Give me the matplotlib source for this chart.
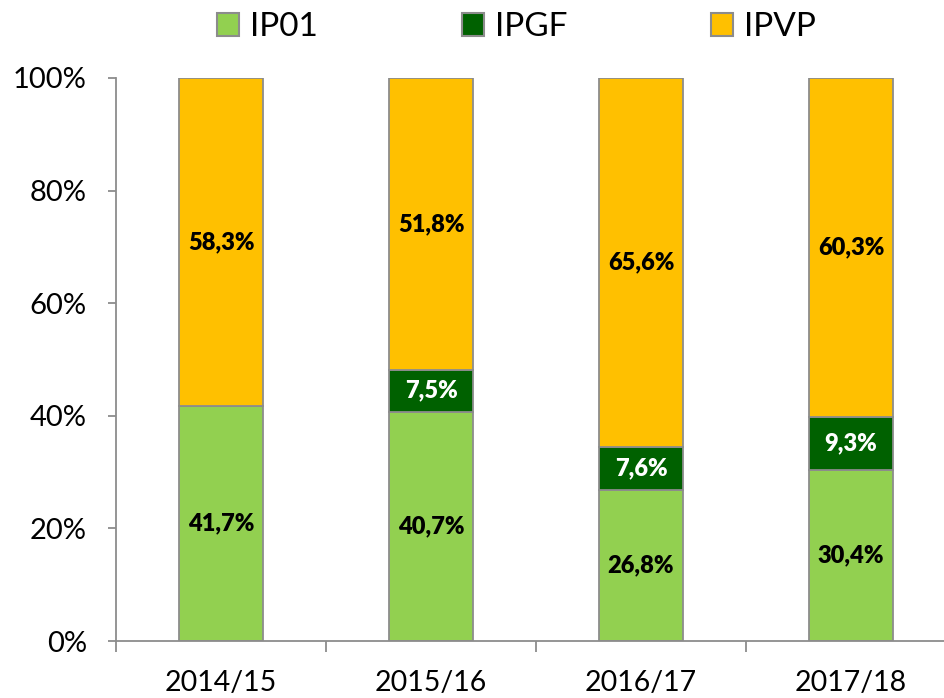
import matplotlib
matplotlib.use("Agg")
import matplotlib.pyplot as plt
from matplotlib.patches import Patch
import numpy as np

categories = ["2014/15", "2015/16", "2016/17", "2017/18"]
ip01 = [41.7, 40.7, 26.8, 30.4]
ipgf = [0.0, 7.5, 7.6, 9.3]
ipvp = [58.3, 51.8, 65.6, 60.3]
series_names = ["IP01", "IPGF", "IPVP"]
colors = ["#92D050", "#006100", "#FFC000"]
label_colors = ["black", "white", "black"]
yticks = [0, 20, 40, 60, 80, 100]

plt.rcParams['font.family'] = ['Lato', 'DejaVu Sans']

fig = plt.figure(figsize=(9.44, 6.98), dpi=100)
ax = fig.add_axes([116/944, 1-641/698, 840/944, 563/698])

x = np.arange(len(categories))
edge = "#8C8C8C"
bottom = np.zeros(len(categories))
for vals, col, lc in zip([ip01, ipgf, ipvp], colors, label_colors):
    vals = np.array(vals)
    ax.bar(x, vals, 0.4, bottom=bottom, color=col, edgecolor=edge, linewidth=1.3, zorder=2)
    for xi, b, v in zip(x, bottom, vals):
        if v > 0:
            ax.text(xi, b + v/2, f"{v:.1f}%".replace(".", ","), ha="center", va="center",
                    fontsize=17, fontweight="heavy", color=lc, zorder=3)
    bottom = bottom + vals

ax.set_xlim(-0.5, 3.5)
ax.set_ylim(0, 100)
ax.set_yticks(yticks)
ax.set_yticklabels([f"{t}%" for t in yticks])
ax.set_xticks(x)
ax.set_xticklabels(categories)
ax.set_xticks(np.arange(-0.5, 4.0, 1.0), minor=True)
ax.tick_params(axis="x", which="major", length=0, pad=21, labelsize=20.5)
ax.tick_params(axis="x", which="minor", length=8, color=edge, width=1.3)
ax.tick_params(axis="y", length=6, color=edge, width=1.3, labelsize=21, pad=15)
for s in ["top", "right"]:
    ax.spines[s].set_visible(False)
for s in ["left", "bottom"]:
    ax.spines[s].set_color(edge)
    ax.spines[s].set_linewidth(1.3)

handles = [Patch(facecolor=c, edgecolor=edge, linewidth=1.5) for c in colors]
fig.legend(handles, series_names, loc="center left", bbox_to_anchor=(217/944, 1-27/698),
           ncol=3, frameon=False, fontsize=24, handlelength=0.67, handleheight=0.67,
           handletextpad=0.33, columnspacing=4.3, borderpad=0, borderaxespad=0)

fig.savefig("out.png", dpi=100)
